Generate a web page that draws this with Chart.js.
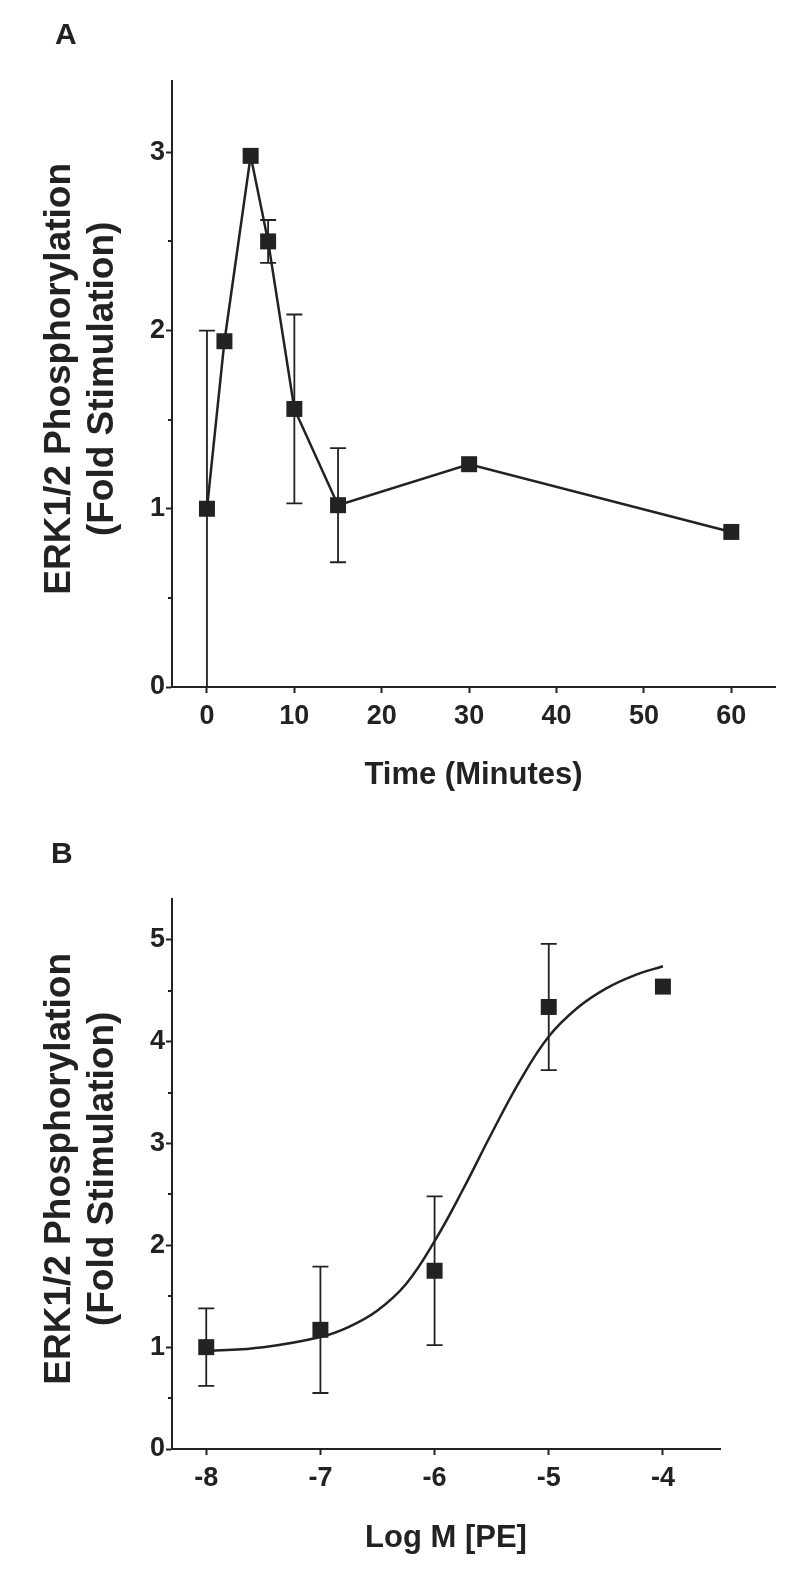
<!DOCTYPE html>
<html>
<head>
<meta charset="utf-8">
<script src="https://cdn.jsdelivr.net/npm/chart.js@4.4.1/dist/chart.umd.min.js"></script>
<style>
    body { margin: 0; background: #fff; width: 794px; height: 1579px; position: relative; overflow: hidden; font-family: "Liberation Sans", Arial, sans-serif; }
    .panel { position: absolute; left: 0; width: 794px; }
    #wrapA { top: 0; height: 800px; }
    #wrapB { top: 790px; height: 789px; }
    .letter { position: absolute; font-weight: bold; font-size: 30px; line-height: 1; color: #222; }
</style>
</head>
<body>
<div class="panel" id="wrapA"><canvas id="chartA" width="794" height="800"></canvas></div>
<div class="panel" id="wrapB"><canvas id="chartB" width="794" height="789"></canvas></div>
<div class="letter" style="left:55px; top:19px;">A</div>
<div class="letter" style="left:51px; top:838px;">B</div>
<script>
        // Panel A: time course
        const timeA = [0, 2, 5, 7, 10, 15, 30, 60];
        const erkA = [1.0, 1.94, 2.98, 2.50, 1.56, 1.02, 1.25, 0.87];
        const semA = [1.0, 0, 0, 0.12, 0.53, 0.32, 0, 0];
        const xTicksA = [0, 10, 20, 30, 40, 50, 60];
        const yTicksA = [0, 0.5, 1, 1.5, 2, 2.5, 3];

        // Panel B: concentration response
        const logPE = [-8, -7, -6, -5, -4];
        const erkB = [1.0, 1.17, 1.75, 4.34, 4.54];
        const semB = [0.38, 0.62, 0.73, 0.62, 0];
        const fitX = [-8, -7.5, -7, -6.75, -6.5, -6.25, -6, -5.75, -5.5, -5.25, -5, -4.75, -4.5, -4.25, -4];
        const fitY = [0.96, 1.0, 1.10, 1.20, 1.36, 1.62, 2.04, 2.55, 3.10, 3.62, 4.05, 4.33, 4.52, 4.65, 4.74];
        const xTicksB = [-8, -7, -6, -5, -4];
        const yTicksB = [0, 0.5, 1, 1.5, 2, 2.5, 3, 3.5, 4, 4.5, 5];

        const INK = '#222222';
        const FONT = '"Liberation Sans", Arial, sans-serif';

        // error bars + short minor ticks, placed with the chart's scales
        const errorBarPlugin = {
            id: 'errorBars',
            beforeDatasetsDraw(chart, args, opts) {
                const { ctx, scales: { x, y } } = chart;
                ctx.save();
                ctx.strokeStyle = INK;
                ctx.lineWidth = 1.8;
                opts.xs.forEach((xv, i) => {
                    const e = opts.errs[i];
                    if (!e) return;
                    const px = x.getPixelForValue(xv);
                    const lo = Math.max(opts.ys[i] - e, y.min);
                    const top = y.getPixelForValue(opts.ys[i] + e);
                    const bot = y.getPixelForValue(lo);
                    ctx.beginPath();
                    ctx.moveTo(px, top); ctx.lineTo(px, bot);
                    ctx.moveTo(px - 8, top); ctx.lineTo(px + 8, top);
                    if (lo > y.min) { ctx.moveTo(px - 8, bot); ctx.lineTo(px + 8, bot); }
                    ctx.stroke();
                });
                ctx.restore();
            },
            afterDraw(chart) {
                const { ctx, chartArea, scales: { y } } = chart;
                ctx.save();
                ctx.strokeStyle = INK;
                ctx.lineWidth = 2;
                y.ticks.forEach(t => {
                    if (Number.isInteger(t.value)) return;
                    const py = Math.round(y.getPixelForValue(t.value));
                    ctx.beginPath();
                    ctx.moveTo(chartArea.left - 4, py);
                    ctx.lineTo(chartArea.left, py);
                    ctx.stroke();
                });
                ctx.restore();
            }
        };

        function axisX(min, max, tickList, fitHeight, title, titlePad) {
            return {
                type: 'linear', min: min, max: max,
                afterBuildTicks: s => { s.ticks = tickList.map(v => ({ value: v })); },
                afterFit: s => { s.height = fitHeight; },
                grid: { drawOnChartArea: false, drawTicks: true, tickLength: 6, tickWidth: 2, tickColor: INK },
                border: { display: true, width: 2, color: INK },
                ticks: { color: INK, padding: 7, maxRotation: 0, font: { family: FONT, size: 27, weight: 'bold' } },
                title: { display: true, text: title, color: INK, padding: { top: 0, bottom: titlePad },
                         font: { family: FONT, size: 31, weight: 'bold', lineHeight: 1.2 } }
            };
        }

        function axisY(max, tickList) {
            return {
                type: 'linear', min: 0, max: max,
                afterBuildTicks: s => { s.ticks = tickList.map(v => ({ value: v })); },
                afterFit: s => { s.width = 172; },
                grid: { drawOnChartArea: false, drawTicks: true, tickLength: 6, tickWidth: 2,
                        tickColor: c => (c.tick && Number.isInteger(c.tick.value)) ? INK : 'rgba(0,0,0,0)' },
                border: { display: true, width: 2, color: INK },
                ticks: { color: INK, padding: 1, font: { family: FONT, size: 27, weight: 'bold' },
                         callback: v => Number.isInteger(v) ? String(v) : '' },
                title: { display: true, text: [' ERK1/2 Phosphorylation', ' (Fold Stimulation)'], color: INK,
                         padding: { top: 38, bottom: 0 },
                         font: { family: FONT, size: 37, weight: 'bold', lineHeight: 1.165 } }
            };
        }

        const markerStyle = {
            pointStyle: 'rect', pointRadius: 11.3, pointHoverRadius: 11.3,
            pointBackgroundColor: INK, pointBorderWidth: 0, borderColor: INK
        };

        new Chart(document.getElementById('chartA'), {
            type: 'scatter',
            data: {
                datasets: [Object.assign({
                    data: timeA.map((t, i) => ({ x: t, y: erkA[i] })),
                    showLine: true, borderWidth: 2.5, tension: 0
                }, markerStyle)]
            },
            options: {
                responsive: false, animation: false, devicePixelRatio: 1,
                layout: { padding: { left: 0, right: 19, top: 81, bottom: 0 } },
                plugins: { legend: { display: false }, tooltip: { enabled: false },
                           errorBars: { xs: timeA, ys: erkA, errs: semA } },
                scales: {
                    x: axisX(-4, 65, xTicksA, 113, 'Time (Minutes)', 6),
                    y: axisY(3.4, yTicksA)
                }
            },
            plugins: [errorBarPlugin]
        });

        new Chart(document.getElementById('chartB'), {
            type: 'scatter',
            data: {
                datasets: [
                    Object.assign({
                        data: logPE.map((v, i) => ({ x: v, y: erkB[i] })),
                        showLine: false
                    }, markerStyle),
                    {
                        data: fitX.map((v, i) => ({ x: v, y: fitY[i] })),
                        showLine: true, borderColor: INK, borderWidth: 2.5,
                        pointRadius: 0, tension: 0.4
                    }
                ]
            },
            options: {
                responsive: false, animation: false, devicePixelRatio: 1,
                layout: { padding: { left: 0, right: 74, top: 109, bottom: 0 } },
                plugins: { legend: { display: false }, tooltip: { enabled: false },
                           errorBars: { xs: logPE, ys: erkB, errs: semB } },
                scales: {
                    x: axisX(-8.3, -3.5, xTicksB, 130, 'Log M [PE]', 22),
                    y: axisY(5.4, yTicksB)
                }
            },
            plugins: [errorBarPlugin]
        });
</script>
</body>
</html>
